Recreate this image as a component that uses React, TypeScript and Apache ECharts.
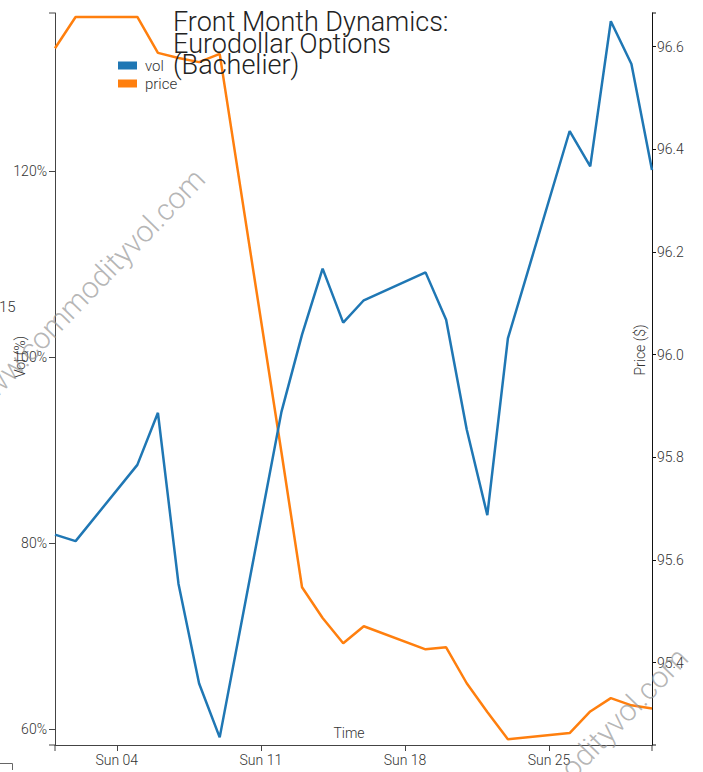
import React, { useEffect, useRef } from "react";
import * as echarts from "echarts";

const dates = [
  "2018-03-01", "2018-03-02", "2018-03-05", "2018-03-06", "2018-03-07", "2018-03-08",
  "2018-03-09", "2018-03-12", "2018-03-13", "2018-03-14", "2018-03-15", "2018-03-16",
  "2018-03-19", "2018-03-20", "2018-03-21", "2018-03-22", "2018-03-23", "2018-03-26",
  "2018-03-27", "2018-03-28", "2018-03-29", "2018-03-30",
];
const vol = [
  80.9, 80.2, 88.4, 94.0, 75.6, 64.9, 59.1, 94.1, 102.4, 109.5, 103.7, 106.1,
  109.1, 104.0, 92.2, 83.0, 102.0, 124.3, 120.5, 136.1, 131.5, 120.1,
];
const price = [
  96.597, 96.658, 96.658, 96.588, 96.578, 96.57, 96.586, 95.81, 95.547, 95.487, 95.438,
  95.471, 95.426, 95.43, 95.36, 95.304, 95.251, 95.263, 95.305, 95.331, 95.317, 95.311,
];
const xTickDates = ["2018-03-04", "2018-03-11", "2018-03-18", "2018-03-25"];
const volTicks = [60, 80, 100, 120];
const priceTicks = [95.4, 95.6, 95.8, 96.0, 96.2, 96.4, 96.6];
const titleLines = ["Front Month Dynamics:", "Eurodollar Options", "(Bachelier)"];
const watermark = "www.commodityvol.com";

const ts = (d: string) => Date.parse(d + "T00:00:00Z");
const FONT = "Roboto";

export default function App() {
  const ref = useRef<HTMLDivElement>(null);
  useEffect(() => {
    if (!ref.current) return;
    const chart = echarts.init(ref.current, null, { renderer: "svg" });
    const xMin = ts("2018-03-01");
    const xMax = ts("2018-03-30");
    const axisCol = "#444";
    const labelStyle = { color: "#333", fontFamily: FONT, fontSize: 14, fontWeight: 300 };
    const tickLine = (x1: number, y1: number, x2: number, y2: number, c: string) => ({
      type: "line",
      shape: { x1, y1, x2, y2 },
      style: { stroke: c, lineWidth: 1 },
      silent: true,
    });
    const option: any = {
      animation: false,
      grid: { left: 55, right: 51, top: 13, bottom: 27, containLabel: false },
      legend: {
        left: 118,
        top: 58,
        orient: "vertical",
        padding: 0,
        itemGap: 3,
        itemWidth: 19,
        itemHeight: 8,
        icon: "rect",
        textStyle: { color: "#333", fontFamily: FONT, fontSize: 15, fontWeight: 300, padding: [0, 0, 0, 3] },
        data: ["vol", "price"],
      },
      xAxis: {
        type: "value",
        min: xMin,
        max: xMax,
        splitLine: { show: false },
        axisLine: { show: true, lineStyle: { color: axisCol, width: 1 } },
        axisTick: { show: true, length: 6, customValues: xTickDates.map(ts), lineStyle: { color: axisCol } },
        axisLabel: {
          customValues: xTickDates.map(ts),
          margin: 8,
          ...labelStyle,
          formatter: (v: number) => {
            const d = new Date(v);
            const days = ["Sun", "Mon", "Tue", "Wed", "Thu", "Fri", "Sat"];
            return days[d.getUTCDay()] + " " + String(d.getUTCDate()).padStart(2, "0");
          },
        },
      },
      yAxis: [
        {
          type: "value",
          position: "left",
          min: 58.28,
          max: 136.99,
          splitLine: { show: false },
          axisLine: { show: true, lineStyle: { color: axisCol, width: 1 } },
          axisTick: { show: true, length: 6, customValues: volTicks, lineStyle: { color: axisCol } },
          axisLabel: { customValues: volTicks, margin: 8, ...labelStyle, formatter: (v: number) => v + "%" },
        },
        {
          type: "value",
          position: "right",
          min: 95.2397,
          max: 96.6657,
          splitLine: { show: false },
          axisLine: { show: true, lineStyle: { color: "#111", width: 1 } },
          axisTick: { show: true, length: 4, customValues: priceTicks, lineStyle: { color: "#111" } },
          axisLabel: { customValues: priceTicks, margin: 5, ...labelStyle, formatter: (v: number) => v.toFixed(1) },
        },
      ],
      series: [
        {
          name: "vol",
          type: "line",
          yAxisIndex: 0,
          data: dates.map((d, i) => [ts(d), vol[i]]),
          showSymbol: false,
          symbol: "none",
          lineStyle: { color: "#1f77b4", width: 2.5 },
          itemStyle: { color: "#1f77b4" },
          z: 3,
        },
        {
          name: "price",
          type: "line",
          yAxisIndex: 1,
          data: dates.map((d, i) => [ts(d), price[i]]),
          showSymbol: false,
          symbol: "none",
          lineStyle: { color: "#ff7f0e", width: 2.5 },
          itemStyle: { color: "#ff7f0e" },
          z: 2,
        },
      ],
      graphic: [
        ...titleLines.map((t, i) => ({
          type: "text",
          x: 173,
          y: 22 + i * 21.5,
          z: 10,
          style: { text: t, fill: "#222", font: `300 27px ${FONT}`, textAlign: "left", textVerticalAlign: "middle" },
        })),
        {
          type: "text",
          x: 20,
          y: 357,
          rotation: Math.PI / 2,
          style: { text: "Vol (%)", fill: "#333", font: `300 14px ${FONT}`, textAlign: "center", textVerticalAlign: "middle" },
        },
        {
          type: "text",
          x: 640,
          y: 350,
          rotation: Math.PI / 2,
          style: { text: "Price ($)", fill: "#333", font: `300 14px ${FONT}`, textAlign: "center", textVerticalAlign: "middle" },
        },
        {
          type: "text",
          x: 349,
          y: 733,
          style: { text: "Time", fill: "#333", font: `300 14px ${FONT}`, textAlign: "center", textVerticalAlign: "middle" },
        },
        {
          type: "text",
          x: -1,
          y: 307,
          style: { text: "15", fill: "#333", font: `300 15px ${FONT}`, textAlign: "left", textVerticalAlign: "middle" },
        },
        {
          type: "text",
          x: 86,
          y: 291,
          rotation: (46 * Math.PI) / 180,
          z: 20,
          style: { text: watermark, fill: "rgba(150,150,150,0.7)", font: `300 30px ${FONT}`, textAlign: "center", textVerticalAlign: "middle" },
        },
        {
          type: "text",
          x: 569,
          y: 770,
          rotation: (46 * Math.PI) / 180,
          z: 20,
          style: { text: watermark, fill: "rgba(150,150,150,0.7)", font: `300 30px ${FONT}`, textAlign: "center", textVerticalAlign: "middle" },
        },
        tickLine(49, 13, 55, 13, axisCol),
        tickLine(49, 745, 55, 745, axisCol),
        tickLine(55, 745, 55, 751, axisCol),
        tickLine(652, 745, 652, 751, axisCol),
        tickLine(652, 13, 656, 13, "#111"),
        tickLine(652, 745, 656, 745, "#111"),
        {
          type: "polyline",
          shape: { points: [[0, 763.5], [12.5, 763.5], [12.5, 770]] },
          style: { stroke: "#666", lineWidth: 1, fill: "none" },
        },
      ],
    };
    chart.setOption(option);
    return () => chart.dispose();
  }, []);
  return <div ref={ref} style={{ width: 703, height: 772, position: "absolute", left: 0, top: 0 }} />;
}
